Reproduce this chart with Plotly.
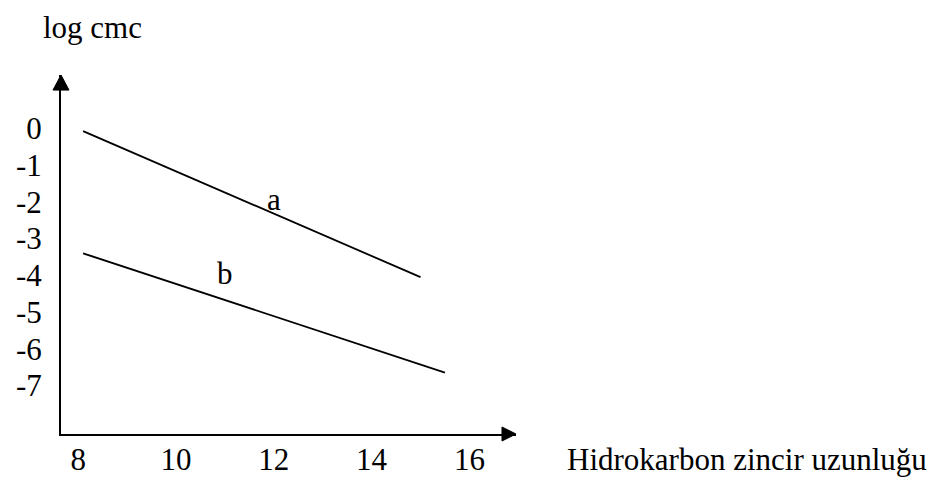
import plotly.graph_objects as go

# Data (schematic values)
x_a = [8.1, 15.0]
y_a = [-0.07, -4.05]
x_b = [8.1, 15.5]
y_b = [-3.4, -6.65]
label_a = (12.0, -1.93)
label_b = (11.0, -3.96)
x_ticks = [8, 10, 12, 14, 16]
y_ticks = [0, -1, -2, -3, -4, -5, -6, -7]
x_title = "Hidrokarbon zincir uzunluğu"
y_title = "log cmc"

FONT = "Liberation Serif, Times New Roman, serif"
FS = 31

fig = go.Figure()
fig.add_trace(go.Scatter(x=x_a, y=y_a, mode="lines",
                         line=dict(color="black", width=1.8), showlegend=False, hoverinfo="skip"))
fig.add_trace(go.Scatter(x=x_b, y=y_b, mode="lines",
                         line=dict(color="black", width=1.8), showlegend=False, hoverinfo="skip"))

fig.add_annotation(x=label_a[0], y=label_a[1], text="a", showarrow=False,
                   font=dict(family=FONT, size=FS, color="black"))
fig.add_annotation(x=label_b[0], y=label_b[1], text="b", showarrow=False,
                   font=dict(family=FONT, size=FS, color="black"))

# axis titles
fig.add_annotation(xref="paper", yref="paper", x=1.1077, y=-0.0724, xanchor="left", yanchor="middle",
                   text=x_title, showarrow=False, font=dict(family=FONT, size=FS, color="black"))
fig.add_annotation(xref="paper", yref="paper", x=-0.044, y=1.1866, xanchor="left", yanchor="top",
                   text=y_title, showarrow=False, font=dict(family=FONT, size=FS, color="black"))

# arrowheads
fig.add_shape(type="path", xref="paper", yref="paper",
              path="M 0.9692 -0.0195 L 1.0 0 L 0.9692 0.0195 Z",
              fillcolor="black", line=dict(color="black", width=1))
fig.add_shape(type="path", xref="paper", yref="paper",
              path="M -0.0176 0.958 L 0 1.0 L 0.0176 0.958 Z",
              fillcolor="black", line=dict(color="black", width=1))

# page body has an 8px margin: figure is offset by 8px and sized to reach the window edges
fig.update_layout(
    width=934, height=474,
    margin=dict(l=53, r=426, t=67, b=48, autoexpand=False),
    paper_bgcolor="white", plot_bgcolor="white",
    font=dict(family=FONT, size=FS, color="black"),
    xaxis=dict(range=[7.648, 16.953], tickvals=x_ticks, ticktext=[str(v) for v in x_ticks],
               automargin=False,
               showgrid=False, zeroline=False, showline=True, linecolor="black", linewidth=2,
               ticks="", ticklabelstandoff=-3,
               tickfont=dict(family=FONT, size=FS, color="black")),
    yaxis=dict(range=[-8.324, 1.458], tickvals=y_ticks, ticktext=[str(v) for v in y_ticks],
               automargin=False,
               showgrid=False, zeroline=False, showline=True, linecolor="black", linewidth=2,
               ticks="outside", ticklen=11, tickcolor="rgba(0,0,0,0)",
               tickfont=dict(family=FONT, size=FS, color="black")),
)

fig.write_html("out.html")
